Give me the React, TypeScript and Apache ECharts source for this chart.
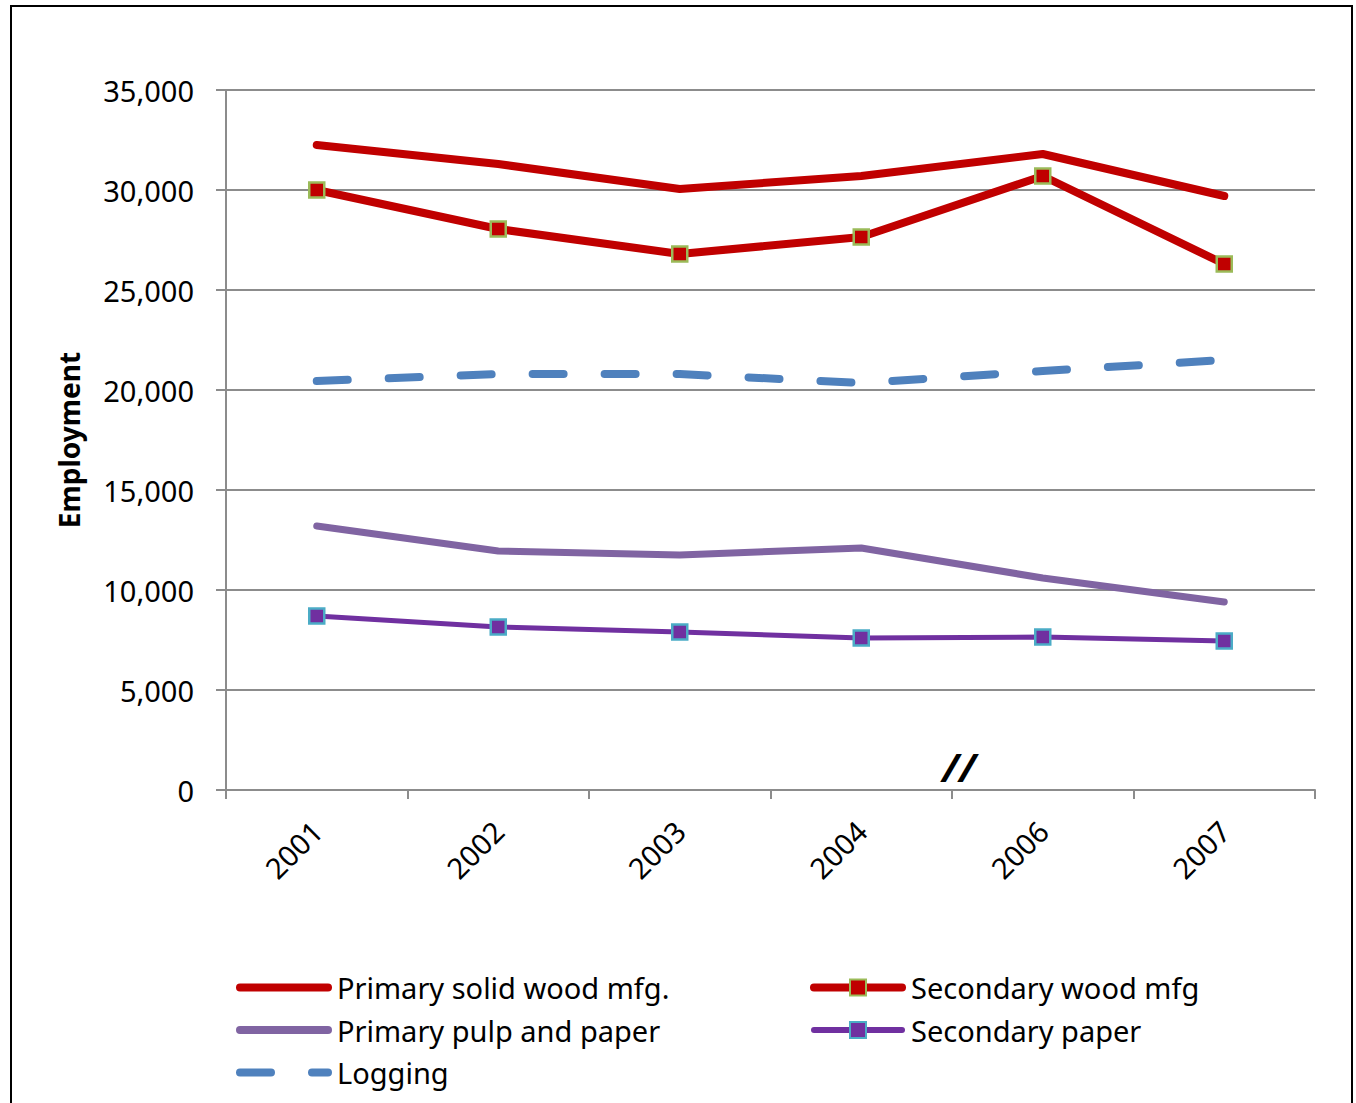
import React, { useEffect, useRef } from "react";
import * as echarts from "echarts";

const years = ["2001", "2002", "2003", "2004", "2006", "2007"];
const primarySolidWood = [32250, 31300, 30050, 30700, 31800, 29700];
const secondaryWood = [30000, 28050, 26800, 27650, 30700, 26300];
const logging = [20450, 20800, 20800, 20350, 20950, 21500];
const primaryPulp = [13200, 11950, 11750, 12100, 10600, 9400];
const secondaryPaper = [8700, 8150, 7900, 7600, 7650, 7450];

const FONT = "Noto Sans";
const FS = 29;

export default function App() {
  const ref = useRef<HTMLDivElement>(null);
  useEffect(() => {
    const chart = echarts.init(ref.current!, null, { renderer: "svg" });
    const noSym = { opacity: 0 };
    chart.setOption({
      animation: false,
      backgroundColor: "#ffffff",
      textStyle: { fontFamily: FONT },
      grid: { left: 226, top: 90, width: 1089, height: 700 },
      xAxis: {
        type: "category",
        data: years,
        boundaryGap: true,
        axisLine: { lineStyle: { color: "#8c8c8c", width: 2 } },
        axisTick: { show: true, length: 9, lineStyle: { color: "#8c8c8c", width: 2 } },
        axisLabel: { rotate: 45, color: "#000", fontSize: FS, fontFamily: FONT, margin: 36 },
      },
      yAxis: {
        type: "value",
        min: 0,
        max: 35000,
        interval: 5000,
        name: "Employment",
        nameLocation: "middle",
        nameGap: 143,
        nameTextStyle: { fontSize: 28, fontWeight: "bold", color: "#000", fontFamily: FONT },
        axisLine: { show: true, lineStyle: { color: "#8c8c8c", width: 2 } },
        axisTick: { show: true, length: 10, lineStyle: { color: "#8c8c8c", width: 2 } },
        splitLine: { lineStyle: { color: "#8c8c8c", width: 2 } },
        axisLabel: {
          color: "#000",
          fontSize: FS,
          fontFamily: FONT,
          margin: 32,
          formatter: (v: number) => v.toLocaleString("en-US"),
        },
      },
      legend: [
        {
          orient: "vertical",
          left: 231,
          top: 968,
          itemWidth: 88,
          itemHeight: 20,
          itemGap: 13.5,
          textStyle: { fontSize: FS, color: "#000", fontFamily: FONT, padding: [0, 0, 0, 4] },
          data: [
            { name: "Primary solid wood mfg.", itemStyle: noSym, lineStyle: { width: 8, cap: "round" } },
            { name: "Primary pulp and paper", itemStyle: noSym, lineStyle: { width: 8, cap: "round" } },
            { name: "Logging", itemStyle: noSym, lineStyle: { width: 8, cap: "round" } },
          ],
        },
        {
          orient: "vertical",
          left: 805,
          top: 968,
          itemWidth: 88,
          itemHeight: 20,
          itemGap: 13.5,
          textStyle: { fontSize: FS, color: "#000", fontFamily: FONT, padding: [0, 0, 0, 4] },
          data: [
            { name: "Secondary wood mfg", lineStyle: { width: 8, cap: "round" } },
            { name: "Secondary paper", lineStyle: { width: 6, cap: "round" } },
          ],
        },
      ],
      graphic: [
        {
          type: "rect",
          shape: { x: 11, y: 6, width: 1341, height: 1110 },
          style: { fill: "none", stroke: "#000", lineWidth: 2 },
          silent: true,
        },
        {
          type: "text",
          x: 942,
          y: 746,
          style: { text: "//", fontSize: 40, fontWeight: "bold", fontStyle: "italic", fill: "#000", fontFamily: FONT },
          silent: true,
        },
      ],
      series: [
        {
          name: "Primary solid wood mfg.",
          type: "line",
          data: primarySolidWood,
          symbol: "none",
          color: "#C00000",
          lineStyle: { color: "#C00000", width: 8, cap: "round", join: "round" },
        },
        {
          name: "Secondary wood mfg",
          type: "line",
          data: secondaryWood,
          symbol: "rect",
          symbolSize: 15,
          color: "#C00000",
          itemStyle: { color: "#C00000", borderColor: "#9BBB59", borderWidth: 2.5 },
          lineStyle: { color: "#C00000", width: 8, cap: "round", join: "round" },
        },
        {
          name: "Logging",
          type: "line",
          data: logging,
          symbol: "none",
          color: "#4F81BD",
          lineStyle: { color: "#4F81BD", width: 8, type: [31, 41], cap: "round", join: "round" },
        },
        {
          name: "Primary pulp and paper",
          type: "line",
          data: primaryPulp,
          symbol: "none",
          color: "#8064A2",
          lineStyle: { color: "#8064A2", width: 7, cap: "round", join: "round" },
        },
        {
          name: "Secondary paper",
          type: "line",
          data: secondaryPaper,
          symbol: "rect",
          symbolSize: 15,
          color: "#7030A0",
          itemStyle: { color: "#7030A0", borderColor: "#4BACC6", borderWidth: 2.5 },
          lineStyle: { color: "#7030A0", width: 5, cap: "round", join: "round" },
        },
      ],
    });
    return () => chart.dispose();
  }, []);
  return (
    <div
      ref={ref}
      style={{ position: "fixed", left: 0, top: 0, width: 1356, height: 1103, background: "#fff" }}
    />
  );
}
